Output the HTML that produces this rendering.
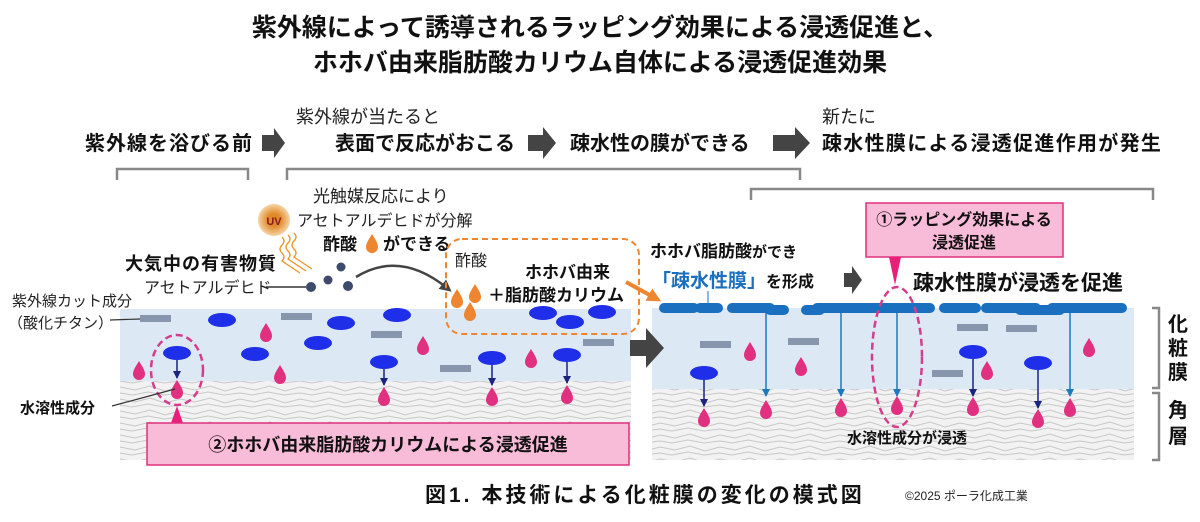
<!DOCTYPE html>
<html><head><meta charset="utf-8"><style>
html,body{margin:0;padding:0;background:#fff;}
svg{display:block;font-family:"Liberation Sans","Noto Sans CJK JP",sans-serif;}
.b{font-weight:bold;}
</style></head><body>
<svg width="1200" height="522" viewBox="0 0 1200 522" xmlns="http://www.w3.org/2000/svg">
<defs>
<pattern id="skin" width="60" height="12" patternUnits="userSpaceOnUse">
<rect width="60" height="12" fill="#f2f2f2"/>
<path d="M0 3 L15 6 L30 2 L45 7 L60 3 M0 9 L12 11 L28 8 L44 11 L60 9" stroke="#c8c8c8" stroke-width="1" fill="none"/>
</pattern>
<radialGradient id="uv"><stop offset="0.4" stop-color="#e08a2a"/><stop offset="1" stop-color="#f6d4a8"/></radialGradient>
<marker id="ah" markerWidth="8" markerHeight="8" refX="7" refY="4" orient="auto" markerUnits="userSpaceOnUse"><path d="M0 0 L8 4 L0 8z" fill="#1a237e"/></marker>
<marker id="ah2" markerWidth="8" markerHeight="8" refX="7" refY="4" orient="auto" markerUnits="userSpaceOnUse"><path d="M0 0 L8 4 L0 8z" fill="#1a7ac0"/></marker>
<marker id="ahg" markerWidth="12" markerHeight="12" refX="6" refY="6" orient="auto" markerUnits="userSpaceOnUse"><path d="M0 0 L12 6 L0 12z" fill="#444"/></marker>
<marker id="aho" markerWidth="14" markerHeight="14" refX="7" refY="7" orient="auto" markerUnits="userSpaceOnUse"><path d="M0 0 L14 7 L0 14z" fill="#ee8530"/></marker>
<path id="pd" d="M0 -10 C3 -5 6 -1 6 3 A6 6 0 0 1 -6 3 C-6 -1 -3 -5 0 -10z"/>
</defs>

<text x="600" y="36" text-anchor="middle" class="b" font-size="25" fill="#111">紫外線によって誘導されるラッピング効果による浸透促進と、</text>
<text x="600" y="71" text-anchor="middle" class="b" font-size="25" fill="#111">ホホバ由来脂肪酸カリウム自体による浸透促進効果</text>

<text x="85" y="150" class="b" font-size="20" letter-spacing="1" fill="#111">紫外線を浴びる前</text>
<path d="M262 135 h12 v-7 l11 15 l-11 15 v-7 h-12z" fill="#444"/>
<text x="296" y="123" font-size="18" fill="#222">紫外線が当たると</text>
<text x="335" y="150" class="b" font-size="20" fill="#111">表面で反応がおこる</text>
<path d="M528 135 h15 v-8 l13 16 l-13 16 v-8 h-15z" fill="#444"/>
<text x="570" y="150" class="b" font-size="20" fill="#111">疎水性の膜ができる</text>
<path d="M773 135 h22 v-8 l15 16 l-15 16 v-8 h-22z" fill="#444"/>
<text x="822" y="123" font-size="18" fill="#222">新たに</text>
<text x="822" y="150" class="b" font-size="20" letter-spacing="1.3" fill="#111">疎水性膜による浸透促進作用が発生</text>

<g stroke="#888" stroke-width="2.5" fill="none">
<path d="M117 180 v-11 h131 v11"/>
<path d="M287 180 v-11 h513 v11"/>
<path d="M751 200 v-11 h402 v11"/>
<path d="M1152 308 h7 v80 h-7"/>
<path d="M1152 393 h7 v67 h-7"/>
</g>
<g class="b" font-size="20" fill="#111" text-anchor="middle">
<text x="1178" y="331">化</text><text x="1178" y="355">粧</text><text x="1178" y="379">膜</text>
<text x="1178" y="417">角</text><text x="1178" y="443">層</text>
</g>

<rect x="120" y="380" width="511" height="80" fill="url(#skin)"/>
<rect x="120" y="309" width="511" height="72" fill="#dce8f4"/>
<rect x="652" y="388" width="482" height="72" fill="url(#skin)"/>
<rect x="652" y="308" width="482" height="81" fill="#dce8f4"/>

<path d="M630 340 h16 v-12 l18 20 l-18 20 v-12 h-16z" fill="#444"/>

<g fill="#8796ad">
<rect x="140" y="315" width="31" height="7"/><rect x="281" y="313" width="31" height="7"/>
<rect x="371" y="331" width="31" height="7"/><rect x="440" y="365" width="31" height="7"/>
<rect x="583" y="339" width="31" height="7"/>
</g>
<g fill="#1f2ee8">
<ellipse cx="222" cy="320" rx="14" ry="7"/><ellipse cx="341" cy="323" rx="14" ry="7"/>
<ellipse cx="397" cy="315" rx="14" ry="7"/><ellipse cx="318" cy="343" rx="14" ry="7"/>
<ellipse cx="255" cy="354" rx="14" ry="7"/><ellipse cx="177" cy="353" rx="14" ry="7"/>
<ellipse cx="384" cy="362" rx="14" ry="7"/><ellipse cx="492" cy="358" rx="14" ry="7"/>
<ellipse cx="567" cy="355" rx="14" ry="7"/><ellipse cx="543" cy="313" rx="14" ry="7"/>
<ellipse cx="570" cy="322" rx="14" ry="7"/><ellipse cx="602" cy="312" rx="14" ry="7"/>
</g>
<g stroke="#1a237e" stroke-width="1.5" marker-end="url(#ah)">
<line x1="177" y1="360" x2="177" y2="378"/><line x1="384" y1="369" x2="384" y2="385"/>
<line x1="492" y1="365" x2="492" y2="385"/><line x1="567" y1="362" x2="567" y2="383"/>
</g>
<g fill="#e0307f">
<use href="#pd" x="177" y="390"/><use href="#pd" x="384" y="397"/><use href="#pd" x="492" y="397"/><use href="#pd" x="567" y="395"/>
<use href="#pd" x="266" y="333"/><use href="#pd" x="139" y="371"/><use href="#pd" x="280" y="375"/><use href="#pd" x="423" y="346"/><use href="#pd" x="531" y="359"/>
</g>
<ellipse cx="177" cy="370" rx="26" ry="35" fill="none" stroke="#d63c8c" stroke-width="2.5" stroke-dasharray="7 4"/>
<path d="M171 423 L177 406 L183 423z" fill="#e8207a"/>
<rect x="147" y="423" width="482" height="42" fill="#f9bcd8" stroke="#e0307f" stroke-width="1.5"/>
<text x="388" y="451" text-anchor="middle" class="b" font-size="18" fill="#111">②ホホバ由来脂肪酸カリウムによる浸透促進</text>

<text x="12" y="306" font-size="15" fill="#222">紫外線カット成分</text>
<text x="8" y="328" font-size="15" fill="#222">（酸化チタン）</text>
<line x1="110" y1="320" x2="140" y2="319" stroke="#333" stroke-width="1.2"/>
<text x="20" y="413" class="b" font-size="15" fill="#111">水溶性成分</text>
<line x1="112" y1="406" x2="175" y2="389" stroke="#333" stroke-width="1.2"/>
<text x="125" y="270" class="b" font-size="18" letter-spacing="1" fill="#111">大気中の有害物質</text>
<text x="144" y="293" font-size="16" fill="#222">アセトアルデヒド</text>
<line x1="266" y1="287" x2="306" y2="287" stroke="#333" stroke-width="1.5"/>
<g fill="#3d4a6b"><circle cx="311" cy="287" r="5"/><circle cx="328" cy="280" r="4.5"/><circle cx="348" cy="286" r="5"/><circle cx="341" cy="267" r="4.5"/></g>
<circle cx="274" cy="220" r="16" fill="url(#uv)"/>
<text x="274" y="225" text-anchor="middle" class="b" font-size="11" fill="#8a1a1a">UV</text>
<g stroke="#e8962c" stroke-width="1.3" fill="none">
<path d="M282 237 q4 4 0 8 q-4 4 0 8 q4 4 0 8 l18 12"/>
<path d="M288 235 q4 4 0 8 q-4 4 0 8 q4 4 0 8 l18 12"/>
<path d="M294 233 q4 4 0 8 q-4 4 0 8 q4 4 0 8 l18 12"/>
</g>
<text x="313" y="202" font-size="17" fill="#222">光触媒反応により</text>
<text x="297" y="226" font-size="16" fill="#222">アセトアルデヒドが分解</text>
<text x="323" y="250" class="b" font-size="17" fill="#111">酢酸</text>
<use href="#pd" x="372" y="244" fill="#ee8530"/>
<text x="383" y="250" class="b" font-size="17" fill="#111">ができる</text>
<path d="M356 277 Q400 250 447 288" stroke="#444" stroke-width="2.5" fill="none" marker-end="url(#ahg)"/>

<rect x="446" y="239" width="193" height="95" rx="16" fill="none" stroke="#ee8530" stroke-width="2" stroke-dasharray="6 4"/>
<text x="455" y="266" font-size="16" fill="#222">酢酸</text>
<text x="525" y="278" class="b" font-size="17" fill="#111">ホホバ由来</text>
<text x="488" y="301" class="b" font-size="17" fill="#111">＋脂肪酸カリウム</text>
<g fill="#ee8530"><use href="#pd" x="457" y="299"/><use href="#pd" x="475" y="294"/><use href="#pd" x="470" y="312"/></g>
<line x1="626" y1="282" x2="655" y2="298" stroke="#ee8530" stroke-width="4" marker-end="url(#aho)"/>

<text x="650" y="257" class="b" font-size="17" fill="#111">ホホバ脂肪酸<tspan font-size="15">ができ</tspan></text>
<text x="652" y="287" class="b" font-size="19" fill="#1a6fbf">「疎水性膜」<tspan fill="#111" font-size="16">を形成</tspan></text>
<line x1="708" y1="291" x2="708" y2="305" stroke="#1a6fbf" stroke-width="1"/>
<path d="M844 273 h8 v-7 l10 14 l-10 14 v-7 h-8z" fill="#444"/>
<text x="913" y="290" class="b" font-size="21" fill="#111">疎水性膜が浸透を促進</text>

<rect x="866" y="203" width="197" height="54" fill="#f9bcd8" stroke="#e0307f" stroke-width="1.5"/>
<text x="964" y="225" text-anchor="middle" class="b" font-size="16" fill="#111">①ラッピング効果による</text>
<text x="964" y="248" text-anchor="middle" class="b" font-size="16" fill="#111">浸透促進</text>
<path d="M889 257 L895 285 L901 257z" fill="#e8207a"/>

<g fill="#1a70bf">
<rect x="659" y="303" width="40" height="10" rx="5"/><rect x="695" y="303" width="28" height="10" rx="5"/>
<rect x="727" y="303" width="48" height="10" rx="5"/><rect x="765" y="305" width="24" height="10" rx="5"/>
<rect x="801" y="305" width="24" height="10" rx="5"/><rect x="812" y="303" width="123" height="10" rx="5"/>
<rect x="939" y="303" width="42" height="10" rx="5"/><rect x="981" y="303" width="60" height="10" rx="5"/>
<rect x="1015" y="305" width="50" height="10" rx="5"/><rect x="1047" y="303" width="80" height="10" rx="5"/>
</g>
<g stroke="#1a7ac0" stroke-width="1.5" marker-end="url(#ah2)">
<line x1="766" y1="313" x2="766" y2="396"/><line x1="841" y1="313" x2="841" y2="396"/>
<line x1="897" y1="313" x2="897" y2="396"/><line x1="1070" y1="313" x2="1070" y2="396"/>
</g>
<g fill="#8796ad">
<rect x="700" y="341" width="31" height="7"/><rect x="788" y="338" width="31" height="7"/>
<rect x="957" y="324" width="31" height="7"/><rect x="1006" y="325" width="31" height="7"/>
<rect x="932" y="370" width="31" height="7"/>
</g>
<g fill="#1f2ee8">
<ellipse cx="704" cy="373" rx="14" ry="7"/><ellipse cx="973" cy="352" rx="14" ry="7"/><ellipse cx="1038" cy="363" rx="14" ry="7"/>
</g>
<g stroke="#1a237e" stroke-width="1.5" marker-end="url(#ah)">
<line x1="704" y1="380" x2="704" y2="406"/><line x1="973" y1="359" x2="973" y2="396"/><line x1="1038" y1="370" x2="1038" y2="408"/>
</g>
<g fill="#e0307f">
<use href="#pd" x="704" y="418"/><use href="#pd" x="766" y="410"/><use href="#pd" x="841" y="408"/><use href="#pd" x="897" y="406"/>
<use href="#pd" x="973" y="407"/><use href="#pd" x="1038" y="419"/><use href="#pd" x="1070" y="408"/>
<use href="#pd" x="750" y="352"/><use href="#pd" x="801" y="367"/><use href="#pd" x="987" y="371"/><use href="#pd" x="1089" y="348"/>
</g>
<ellipse cx="897" cy="357" rx="25" ry="70" fill="none" stroke="#d63c8c" stroke-width="2.5" stroke-dasharray="7 4"/>
<text x="907" y="443" text-anchor="middle" class="b" font-size="15" fill="#111">水溶性成分が浸透</text>

<text x="425" y="502" class="b" font-size="21" letter-spacing="3" fill="#111">図1. 本技術による化粧膜の変化の模式図</text>
<text x="905" y="500" font-size="12" fill="#222">©2025  ポーラ化成工業</text>
</svg>
</body></html>
